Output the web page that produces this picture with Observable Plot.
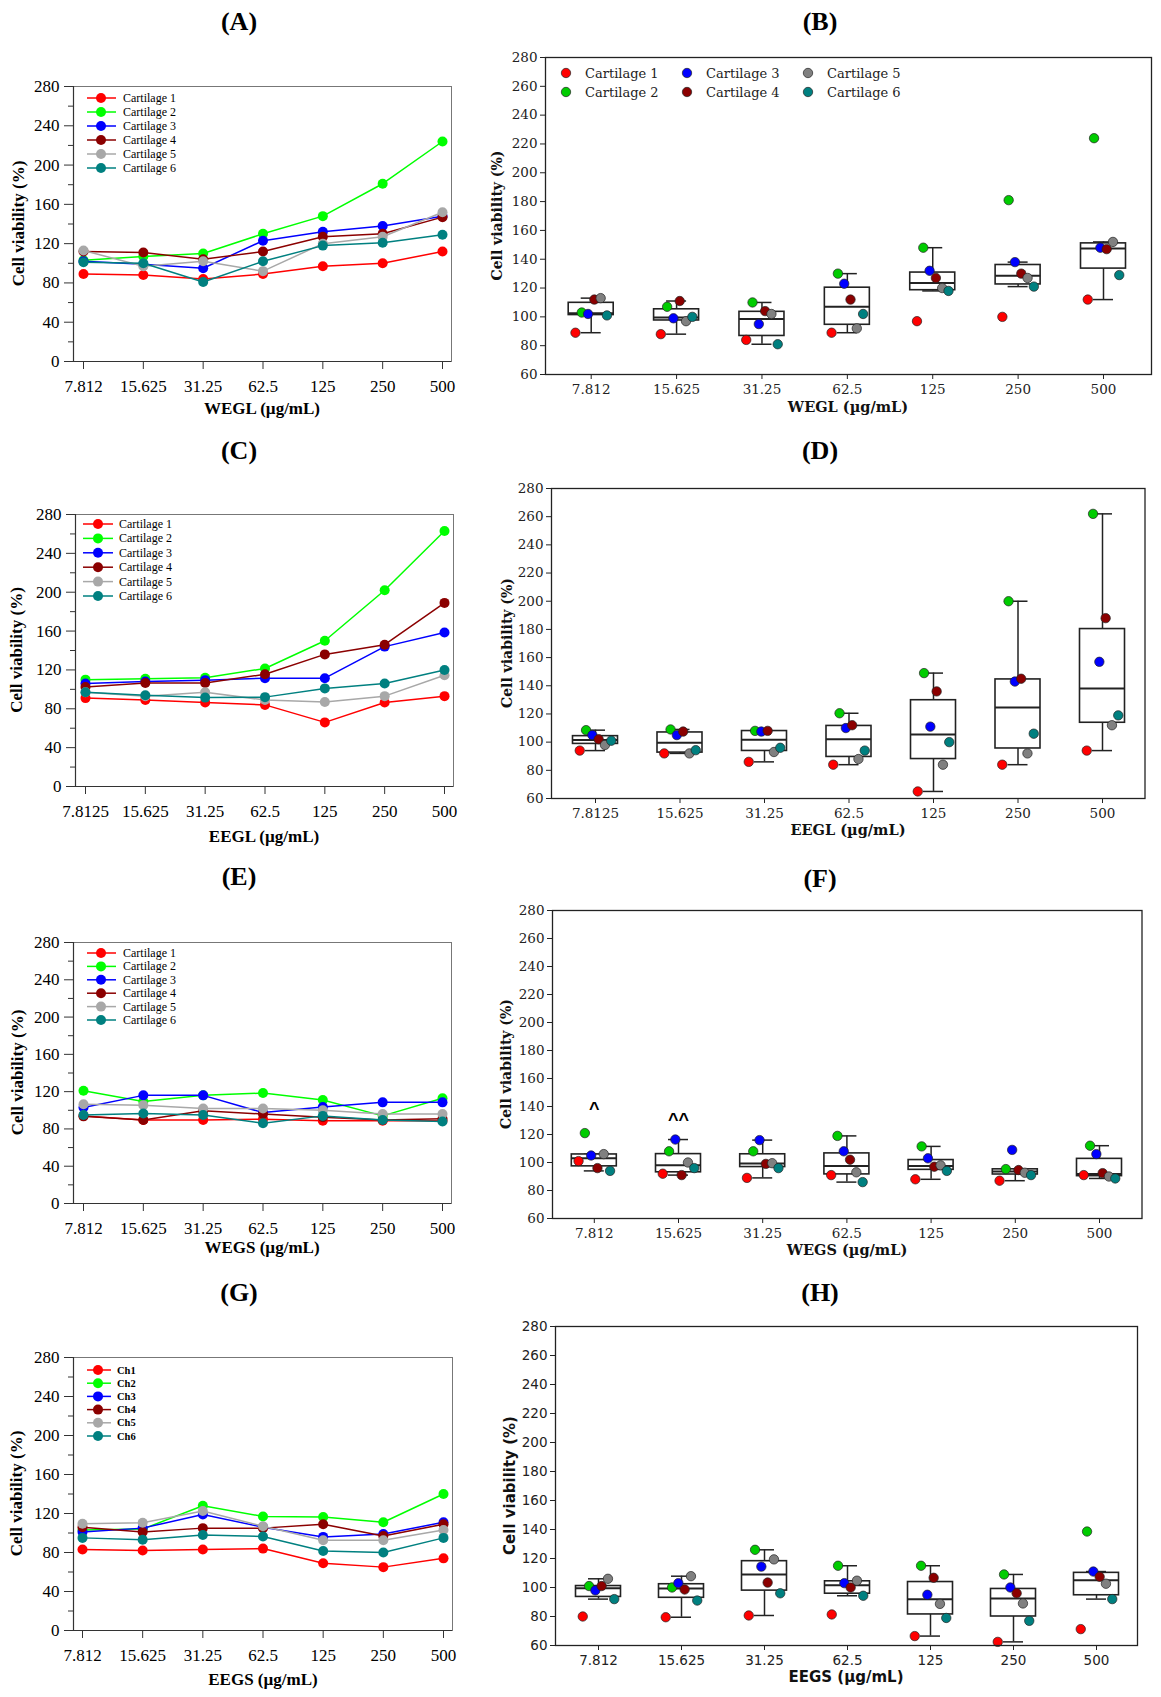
<!DOCTYPE html>
<html><head><meta charset="utf-8">
<script src="https://cdn.jsdelivr.net/npm/d3@7"></script>
<script src="https://cdn.jsdelivr.net/npm/@observablehq/plot@0.6"></script>
<style>
body{margin:0;background:#fff;}
#page{position:relative;width:1161px;height:1697px;overflow:hidden;background:#fff;}
</style></head><body><div id="page"></div>
<script>
// ---------- data ----------
const ticksWEGL = ["7.812","15.625","31.25","62.5","125","250","500"];
const ticksEEGL = ["7.8125","15.625","31.25","62.5","125","250","500"];
const ticksWEGS = ["7.812","15.625","31.25","62.5","125","250","500"];
const ticksEEGS = ["7.812","15.625","31.25","62.5","125","250","500"];
const cartilageNames = ["Cartilage 1","Cartilage 2","Cartilage 3","Cartilage 4","Cartilage 5","Cartilage 6"];
const chNames = ["Ch1","Ch2","Ch3","Ch4","Ch5","Ch6"];
// one row per cartilage, values at the 7 concentrations (cell viability %) — box-plot panels
const wegl = [
  [89, 88, 84, 89, 97, 100, 112],
  [103, 107, 110, 130, 148, 181, 224],
  [102, 99, 95, 123, 132, 138, 148],
  [112, 111, 104, 112, 127, 130, 147],
  [113, 97, 102, 92, 120, 127, 152],
  [101, 100, 81, 102, 118, 121, 129]
];
const eegl = [
  [94, 92, 86, 84, 65, 84, 94],
  [108.5, 109, 108, 120.5, 149, 200, 262],
  [105, 105, 107.5, 110, 111, 143, 157],
  [102, 107.5, 108, 112, 136, 145, 188],
  [98, 92, 93, 88, 84, 92, 112],
  [101, 94.3, 96, 94, 100, 106, 119]
];
const wegs = [
  [101, 92, 89, 91, 88, 87, 91],
  [121, 108, 108, 119, 111.5, 95.3, 112],
  [105, 116.4, 116, 108, 103, 109, 106],
  [96, 91, 99, 102, 97, 94.6, 92.4],
  [106, 100, 99.5, 93, 98, 92.7, 90],
  [94, 96, 96, 86, 94, 91, 88.6]
];
const eegs = [
  [80, 79.5, 80.7, 81.4, 66.5, 62.5, 71.3],
  [101, 100, 126, 115, 115, 109, 138.6],
  [98, 103, 114.4, 103, 95, 100, 111],
  [101, 98.6, 103.4, 100, 106.7, 96, 107.4],
  [106, 107.8, 119.4, 104.7, 88.7, 89, 102.6],
  [92, 91, 96, 94.3, 79, 77, 92]
];
// values as plotted in the line panels (C, E, G)
const lineEEGL = [
  [91, 89, 86.5, 84, 66, 86.5, 93],
  [110, 111, 112, 121.5, 150, 202, 263],
  [106, 108, 109.5, 111.5, 111.5, 144, 158.5],
  [102.5, 106.5, 106.5, 115.5, 136, 146, 189],
  [97, 93, 97, 89, 87, 93, 114.5],
  [97, 94, 91.5, 92, 101, 106, 120]
];
const lineWEGS = [
  [94, 89.5, 89.5, 90.5, 88.7, 88.7, 88.7],
  [121, 109.5, 116, 118.5, 111, 94, 113],
  [103, 116, 116, 97.5, 103.5, 108.5, 108.5],
  [93.5, 89.5, 99.5, 96, 92.5, 89.5, 91],
  [106.5, 105.5, 102, 102, 100, 96, 96],
  [95, 96.5, 95, 86, 94, 89.5, 88]
];
const lineEEGS = [
  [83, 82, 83, 84, 69, 65, 74],
  [103, 104, 128, 117, 116.5, 111, 140],
  [101, 105, 119, 106, 96, 99, 111],
  [106, 101, 105, 105, 109, 97, 109],
  [109.5, 110.5, 122.5, 107, 92.5, 92.5, 103],
  [95, 93, 98, 96.5, 81.5, 80, 95]
];
// significance marks in panel F
const annotFText = ["^", "^^"];
const annotFCat = [0, 1];
const annotFY = [138, 130];

// ---------- styles ----------
const lineColors = ["#ff0000","#00ff00","#0000ff","#8b0000","#a8a8a8","#008080"];
const dotColors = ["#ff0000","#00cc00","#0000ff","#8b0000","#808080","#008080"];
const TIMES = "'Liberation Serif','Times New Roman',serif";
const DVSERIF = "'DejaVu Serif',serif";
const DVSANS = "'DejaVu Sans',sans-serif";
const page = document.getElementById("page");

function placeSvg(svg, x, y) {
  svg.style.position = "absolute";
  svg.style.left = x + "px";
  svg.style.top = y + "px";
  page.appendChild(svg);
}

function linePanel(f, cats, values) {
  const mL = 70, mR = 8, mT = 8, mB = 40;
  const n = cats.length;
  const step = (f.R - f.L - f.inL - f.inR) / (n - 1);
  const xDom = [-f.inL / step, n - 1 + f.inR / step];
  const rows = values.flatMap((arr, s) => arr.map((v, i) => ({s, i, v})));
  const marks = [
    Plot.frame({stroke: "#777", strokeWidth: 1}),
    Plot.ruleX([xDom[0]], {stroke: "#333", strokeWidth: 1.2}),
    Plot.ruleY([0], {stroke: "#333", strokeWidth: 1.2}),
    Plot.axisY({ticks: d3.range(0, 281, 40), tickSize: 9, tickPadding: 5, label: null, stroke: "#333", fill: "#000"}),
    Plot.axisY({ticks: d3.range(20, 281, 40), tickSize: 5, tickFormat: () => "", label: null, stroke: "#333"}),
    Plot.axisX({ticks: d3.range(n), tickFormat: i => cats[i], tickSize: 8, tickPadding: 10, label: null, stroke: "#333", fill: "#000"})
  ];
  values.forEach((arr, s) => {
    const r = rows.filter(d => d.s === s);
    marks.push(Plot.line(r, {x: "i", y: "v", stroke: lineColors[s], strokeWidth: 1.5}));
    marks.push(Plot.dot(r, {x: "i", y: "v", r: 5, fill: lineColors[s]}));
  });
  const svg = Plot.plot({
    width: f.R - f.L + mL + mR, height: f.B - f.T + mT + mB,
    marginLeft: mL, marginRight: mR, marginTop: mT, marginBottom: mB,
    x: {domain: xDom}, y: {domain: [0, 280]},
    style: {fontFamily: TIMES, fontSize: "17px", color: "#000", background: "transparent", overflow: "visible"},
    marks
  });
  placeSvg(svg, f.L - mL, f.T - mT);
}

function boxPanel(f, cats, values, font, extra = []) {
  const mL = 60, mR = 8, mT = 8, mB = 30;
  const n = cats.length;
  const step = (f.R - f.L - f.inL - f.inR) / (n - 1);
  const xDom = [-f.inL / step, n - 1 + f.inR / step];
  const hw = 22.5 / step, cw = 10 / step;
  const stats = cats.map((c, i) => {
    const vals = values.map(a => a[i]).sort(d3.ascending);
    const q1 = d3.quantile(vals, 0.25), med = d3.quantile(vals, 0.5), q3 = d3.quantile(vals, 0.75);
    const iqr = q3 - q1;
    const lo = d3.min(vals.filter(v => v >= q1 - 1.5 * iqr));
    const hi = d3.max(vals.filter(v => v <= q3 + 1.5 * iqr));
    return {i, x1: i - hw, x2: i + hw, c1: i - cw, c2: i + cw, q1, med, q3, lo, hi};
  });
  const rows = values.flatMap((arr, s) => arr.map((v, i) => ({s, i, v})));
  const ink = "#222";
  const marks = [
    Plot.ruleX(stats, {x: "i", y1: "lo", y2: "q1", stroke: ink, strokeWidth: 1.5}),
    Plot.ruleX(stats, {x: "i", y1: "q3", y2: "hi", stroke: ink, strokeWidth: 1.5}),
    Plot.ruleY(stats, {y: "lo", x1: "c1", x2: "c2", stroke: ink, strokeWidth: 1.5}),
    Plot.ruleY(stats, {y: "hi", x1: "c1", x2: "c2", stroke: ink, strokeWidth: 1.5}),
    Plot.rect(stats, {x1: "x1", x2: "x2", y1: "q1", y2: "q3", fill: "#fff", stroke: ink, strokeWidth: 1.6}),
    Plot.ruleY(stats, {y: "med", x1: "x1", x2: "x2", stroke: ink, strokeWidth: 2})
  ];
  values.forEach((arr, s) => {
    marks.push(Plot.dot(rows.filter(d => d.s === s), {
      x: "i", y: "v", dx: (s - 2.5) * 6.3, r: 4.7, fill: dotColors[s], stroke: "#222", strokeWidth: 0.7
    }));
  });
  marks.push(
    Plot.frame({stroke: ink, strokeWidth: 1.3}),
    Plot.axisY({ticks: d3.range(60, 281, 20), tickSize: 5, tickPadding: 3, label: null, stroke: ink, fill: "#222"}),
    Plot.axisX({ticks: d3.range(n), tickFormat: i => cats[i], tickSize: 5, tickPadding: 4.5, label: null, stroke: ink, fill: "#222"}),
    ...extra
  );
  const svg = Plot.plot({
    width: f.R - f.L + mL + mR, height: f.B - f.T + mT + mB,
    marginLeft: mL, marginRight: mR, marginTop: mT, marginBottom: mB,
    x: {domain: xDom}, y: {domain: [60, 280]},
    style: {fontFamily: font, fontSize: "13.5px", color: "#222", background: "transparent", overflow: "visible"},
    marks
  });
  placeSvg(svg, f.L - mL, f.T - mT);
}

// ---------- panels ----------
linePanel({L: 73, R: 451, T: 86, B: 361, inL: 10, inR: 9}, ticksWEGL, wegl);
linePanel({L: 75, R: 453, T: 514, B: 786, inL: 10, inR: 9}, ticksEEGL, lineEEGL);
linePanel({L: 73, R: 451, T: 942, B: 1203, inL: 10, inR: 9}, ticksWEGS, lineWEGS);
linePanel({L: 73, R: 452, T: 1357, B: 1630, inL: 9, inR: 9}, ticksEEGS, lineEEGS);

boxPanel({L: 545, R: 1151, T: 57, B: 374, inL: 45.7, inR: 48}, ticksWEGL, wegl, DVSERIF);
boxPanel({L: 551, R: 1144.5, T: 488, B: 798, inL: 44, inR: 42.5}, ticksEEGL, eegl, DVSERIF);
boxPanel({L: 552, R: 1141.5, T: 910, B: 1218, inL: 41.8, inR: 42.5}, ticksWEGS, wegs, DVSERIF, [
  Plot.text(annotFText.map((t, k) => ({t, i: annotFCat[k], y: annotFY[k]})), {
    x: "i", y: "y", text: "t", fontFamily: "'Liberation Sans',Arial,sans-serif", fontWeight: "bold", fontSize: 18, fill: "#000"
  })
]);
boxPanel({L: 555, R: 1137, T: 1326, B: 1645, inL: 43, inR: 41}, ticksEEGS, eegs, DVSANS);

// ---------- overlay: titles, axis labels, legends ----------
const ov = d3.select(page).append("svg")
  .attr("width", 1161).attr("height", 1697)
  .style("position", "absolute").style("left", "0px").style("top", "0px").style("pointer-events", "none");

function label(t, x, y, o) {
  ov.append("text").attr("x", x).attr("y", y)
    .attr("text-anchor", o.anchor || "middle").attr("dominant-baseline", "central")
    .attr("font-family", o.font).attr("font-size", o.size).attr("font-weight", o.weight || "normal")
    .attr("fill", o.fill || "#000")
    .attr("transform", o.rotate ? `rotate(-90 ${x} ${y})` : null)
    .text(t);
}

// panel letters
[["(A)", 239, 21], ["(B)", 820, 21], ["(C)", 239, 450], ["(D)", 820, 450],
 ["(E)", 239, 876], ["(F)", 820, 878], ["(G)", 239, 1292], ["(H)", 820, 1292]]
  .forEach(([t, x, y]) => label(t, x, y, {font: TIMES, size: 26, weight: "bold"}));

// left panel axis titles
const yTitle = "Cell viability (%)";
[["WEGL (µg/mL)", 262, 408], ["EEGL (µg/mL)", 264, 836], ["WEGS (µg/mL)", 262, 1247], ["EEGS (µg/mL)", 263, 1679]]
  .forEach(([t, x, y]) => label(t, x, y, {font: TIMES, size: 17, weight: "bold"}));
[[18, 223.5], [16, 650], [17, 1072.5], [16, 1493.5]]
  .forEach(([x, y]) => label(yTitle, x, y, {font: TIMES, size: 17, weight: "bold", rotate: true}));

// right panel axis titles
[["WEGL (µg/mL)", 848, 406, DVSERIF, 14.5], ["EEGL (µg/mL)", 848, 829, DVSERIF, 14.5],
 ["WEGS (µg/mL)", 847, 1249, DVSERIF, 14.5], ["EEGS (µg/mL)", 846, 1677, DVSANS, 15]]
  .forEach(([t, x, y, font, size]) => label(t, x, y, {font, size, weight: "bold", fill: "#111"}));
[[497, 215.5, DVSERIF, 14], [507, 643, DVSERIF, 14], [506, 1064, DVSERIF, 14], [510, 1485.5, DVSANS, 15]]
  .forEach(([x, y, font, size]) => label(yTitle, x, y, {font, size, weight: "bold", rotate: true, fill: "#111"}));

// line legends
function lineLegend(names, o) {
  names.forEach((name, s) => {
    const y = o.y0 + s * o.dy;
    ov.append("line").attr("x1", o.x0).attr("x2", o.x1).attr("y1", y).attr("y2", y)
      .attr("stroke", lineColors[s]).attr("stroke-width", 1.5);
    ov.append("circle").attr("cx", o.xm).attr("cy", y).attr("r", 5).attr("fill", lineColors[s]);
    label(name, o.xt, y, {font: TIMES, size: o.size, weight: o.weight, anchor: "start"});
  });
}
lineLegend(cartilageNames, {x0: 87, x1: 116, xm: 101, xt: 123, y0: 98, dy: 14, size: 12});
lineLegend(cartilageNames, {x0: 83, x1: 113, xm: 98, xt: 119, y0: 524, dy: 14.4, size: 12});
lineLegend(cartilageNames, {x0: 87, x1: 116, xm: 101, xt: 123, y0: 953, dy: 13.4, size: 12});
lineLegend(chNames, {x0: 87, x1: 111, xm: 98, xt: 117, y0: 1370, dy: 13.2, size: 10.5, weight: "bold"});

// panel B point legend (3 columns x 2 rows)
const legBX = [566, 687, 808], legBT = [585, 706, 827], legBY = [73, 92];
cartilageNames.forEach((name, s) => {
  const c = Math.floor(s / 2), r = s % 2;
  ov.append("circle").attr("cx", legBX[c]).attr("cy", legBY[r]).attr("r", 4.7)
    .attr("fill", dotColors[s]).attr("stroke", "#222").attr("stroke-width", 0.7);
  label(name, legBT[c], legBY[r], {font: DVSERIF, size: 13, anchor: "start", fill: "#222"});
});
</script></body></html>
